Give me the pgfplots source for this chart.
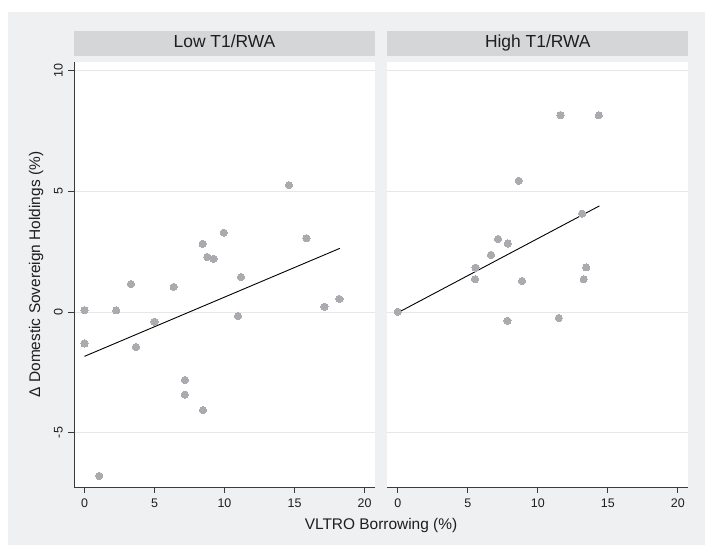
\documentclass[border=0pt]{standalone}
\usepackage{fontspec}
\setmainfont{Liberation Sans}
\usepackage{pgfplots}
\pgfplotsset{compat=1.18}
\usepackage{pgfplotstable}

\definecolor{outerbg}{HTML}{EFF0F2}
\definecolor{hdr}{HTML}{D5D6D8}
\definecolor{gridc}{HTML}{E6E7E9}
\definecolor{dots}{HTML}{A9ABAE}
\definecolor{axc}{HTML}{3A3A3A}
\definecolor{txt}{HTML}{1E1E1E}

% VLTRO borrowing (%) vs change in domestic sovereign holdings (%)
\pgfplotstableread{
x y
0 0.08
2.26 0.07
3.31 1.16
3.67 -1.45
5.0 -0.41
6.37 1.04
7.17 -2.82
7.17 -3.43
8.44 2.83
8.46 -4.07
8.77 2.28
9.22 2.21
9.94 3.29
10.97 -0.17
11.18 1.45
14.6 5.26
15.85 3.06
17.14 0.22
18.21 0.54
0 -1.31
1.05 -6.8
}\lowtbl

\pgfplotstableread{
x y
0 0.01
5.52 1.36
5.55 1.84
6.66 2.37
7.16 3.03
7.83 -0.37
7.86 2.84
8.64 5.44
8.88 1.29
11.5 -0.25
11.62 8.17
13.16 4.08
13.28 1.36
13.45 1.85
14.36 8.16
}\hightbl

\tikzset{ylab/.style={rotate=90, anchor=south, inner sep=0pt,
    font=\fontsize{12.5}{14}\selectfont, text=txt}}

\pgfplotsset{
  panel/.style={
    scale only axis,
    width=301bp, height=425bp,
    anchor=south west,
    xmin=-0.75, xmax=20.75,
    ymin=-7.26, ymax=10.37,
    xtick={0,5,10,15,20},
    ytick={-5,0,5,10},
    yticklabels={},
    axis x line*=bottom,
    axis y line*=left,
    axis line style={draw=axc, line width=0.9bp},
    tick align=outside,
    major tick length=6bp,
    tick style={draw=axc, line width=0.9bp},
    ymajorgrids,
    major grid style={draw=gridc, line width=0.9bp},
    axis background/.style={fill=white},
    /pgf/number format/assume math mode=true,
    ticklabel style={font=\fontsize{12.5}{14}\selectfont, text=txt},
    xticklabel style={anchor=north, inner sep=0pt},
    xticklabel shift={5.5bp},
    title style={at={(0.5,1)}, anchor=south, yshift=0.3bp, fill=hdr,
      minimum width=301bp, inner sep=0pt,
      text height=16.7bp, text depth=7.7bp,
      font=\fontsize{17.5}{19}\selectfont, text=txt},
    clip=false,
  },
  dotstyle/.style={only marks, mark=*, mark size=3.6bp, color=dots,
    mark options={fill=dots, draw=dots, line width=0pt}},
  fitstyle/.style={no marks, draw=black, line width=0.9bp},
}

\begin{document}
\begin{tikzpicture}
\path[fill=white] (0,0) rectangle (705bp,545bp);
\fill[outerbg] (8bp,0) rectangle (705bp,533bp);

\begin{axis}[panel, at={(74bp,58bp)},
  title={Low T1/RWA},
  ylabel={Δ Domestic Sovereign Holdings (\%)},
  every axis y label/.style={at={(axis description cs:-0.1262,0.5)},
    rotate=90, anchor=center, font=\fontsize{15.5}{17}\selectfont, text=txt},
]
\addplot[fitstyle] coordinates {(0,-1.84) (18.24,2.64)};
\addplot[dotstyle] table[x=x,y=y] {\lowtbl};
% rotated y tick labels, 11bp left of the axis line
\node[ylab] at (axis cs:-1.54,10) {10};
\node[ylab] at (axis cs:-1.54,5) {5};
\node[ylab] at (axis cs:-1.54,0) {0};
\node[ylab] at (axis cs:-1.54,-5) {-5};
\end{axis}

\begin{axis}[panel, at={(387.3bp,58bp)},
  title={High T1/RWA},
  y axis line style={draw=none},
  ytick style={draw=none},
]
\addplot[fitstyle] coordinates {(0,-0.03) (14.4,4.40)};
\addplot[dotstyle] table[x=x,y=y] {\hightbl};
\end{axis}

\node[anchor=base, font=\fontsize{15.5}{17}\selectfont, text=txt, inner sep=0pt]
  at (381bp,15.7bp) {VLTRO Borrowing (\%)};
\end{tikzpicture}
\end{document}
